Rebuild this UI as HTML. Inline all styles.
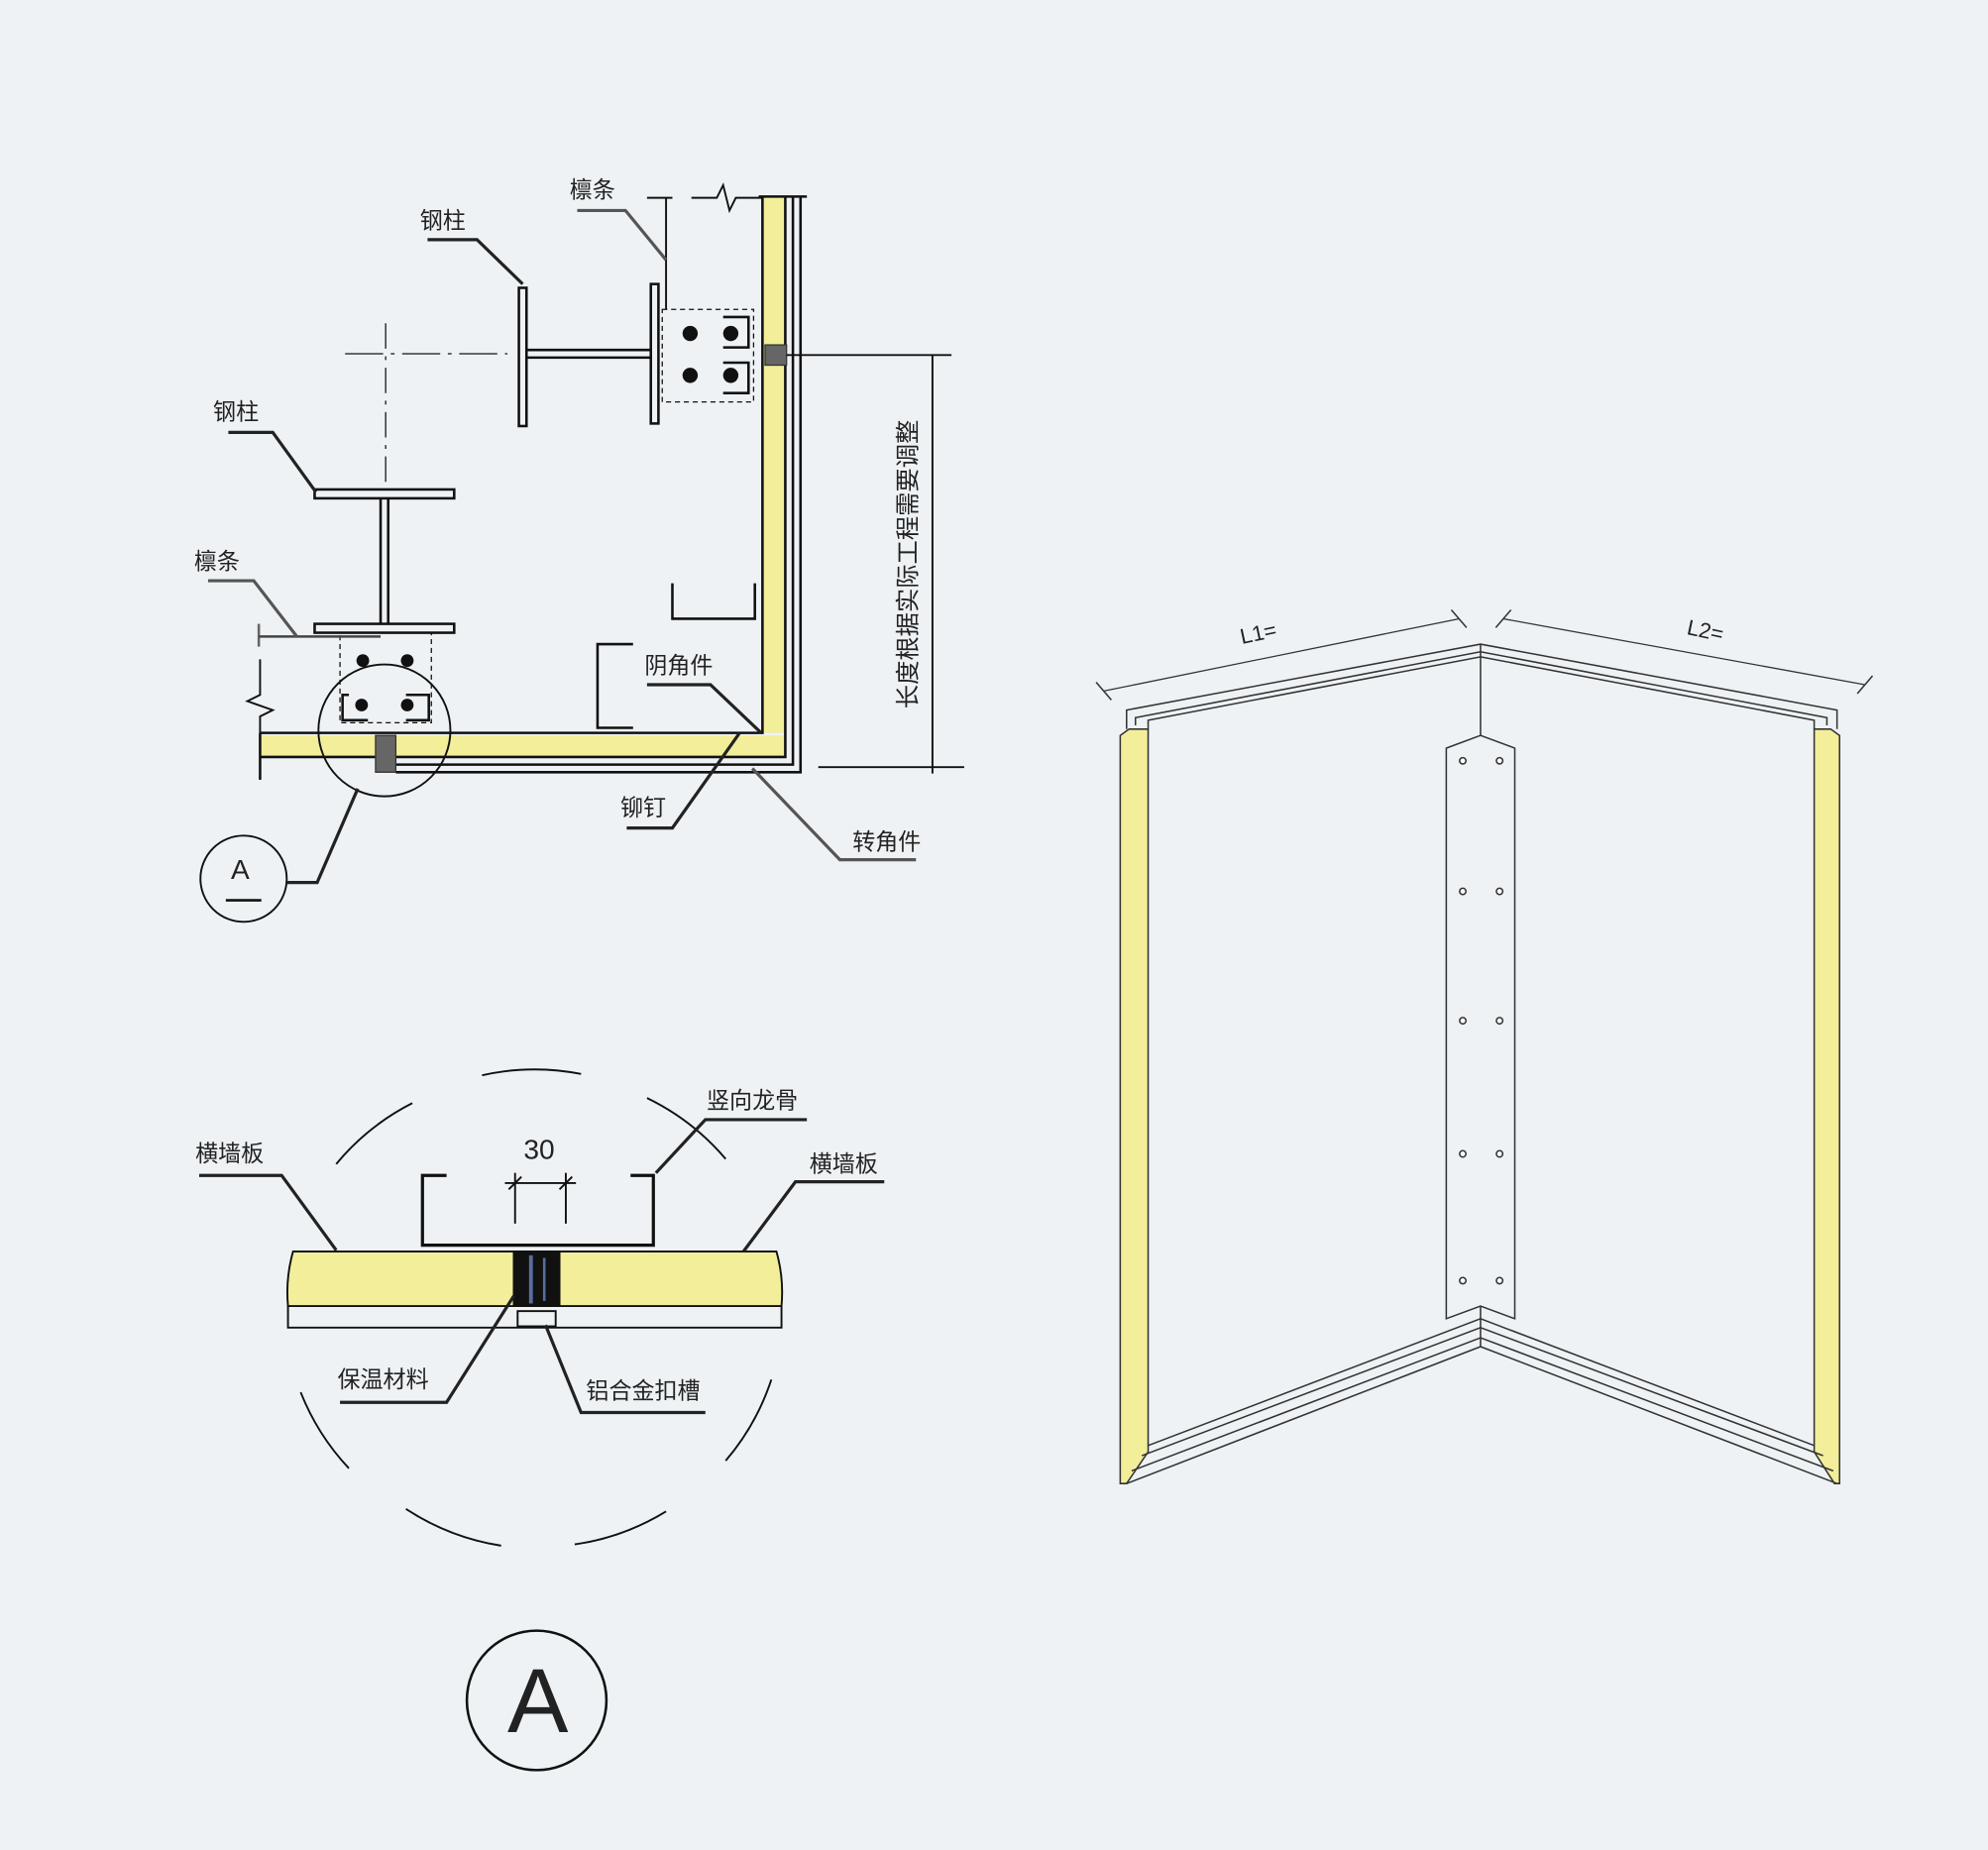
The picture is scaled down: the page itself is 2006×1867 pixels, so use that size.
<!DOCTYPE html>
<html><head><meta charset="utf-8"><style>
html,body{margin:0;padding:0;background:#eef2f5;}
svg{display:block;}
text{font-family:"Liberation Sans","Noto Sans CJK SC",sans-serif;fill:#222;}
</style></head><body>
<svg width="2006" height="1867" viewBox="0 0 1567 1459" preserveAspectRatio="none" xmlns="http://www.w3.org/2000/svg">
<rect width="1567" height="1459" fill="#eef2f5"/>
<g fill="none" stroke="#111" stroke-width="2">
<rect x="601" y="155" width="18" height="423" fill="#f2ee9a" stroke="none"/>
<rect x="205" y="580" width="414" height="17" fill="#f2ee9a" stroke="none"/>
<polyline points="601,155 601,578 205,578"/>
<polyline points="619,155 619,597 205,597"/>
<polyline points="625,155 625,603 312,603"/>
<polyline points="631,155 631,609 312,609"/>
<line x1="598" y1="155" x2="636" y2="155"/>
<line x1="205" y1="578" x2="205" y2="615"/>
<rect x="603" y="272" width="17" height="16" fill="#666" stroke="#333" stroke-width="1"/>
<rect x="296" y="580" width="16" height="29" fill="#666" stroke="#333" stroke-width="1"/>
<line x1="620" y1="280" x2="750" y2="280" stroke-width="1.5"/>
<rect x="409" y="227" width="6" height="109"/>
<rect x="513" y="224" width="6" height="110"/>
<line x1="415" y1="276" x2="513" y2="276"/><line x1="415" y1="282" x2="513" y2="282"/>
<line x1="272" y1="279" x2="400" y2="279" stroke-width="1" stroke-dasharray="30,6,3,6"/>
<rect x="522" y="244" width="72" height="73" stroke-width="1" stroke-dasharray="4,3"/>
<polyline points="570,250 590,250 590,274 570,274" stroke-width="2"/>
<polyline points="570,286 590,286 590,310 570,310" stroke-width="2"/>
<line x1="525" y1="156" x2="525" y2="244" stroke-width="1.5"/>
<path d="M510,156 H530 M545,156 H565 L570,146 L575,166 L580,156 H601" stroke-width="1.5"/>
<rect x="248" y="386" width="110" height="7"/>
<rect x="248" y="492" width="110" height="7"/>
<line x1="300" y1="393" x2="300" y2="492"/><line x1="306" y1="393" x2="306" y2="492"/>
<line x1="304" y1="255" x2="304" y2="386" stroke-width="1" stroke-dasharray="20,6,3,6"/>
<rect x="268" y="499" width="72" height="71" stroke-width="1" stroke-dasharray="4,3"/>
<polyline points="275,548 270,548 270,568 290,568" />
<polyline points="320,548 338,548 338,568 320,568"/>
<polyline points="204,492 204,510" stroke="#666"/>
<line x1="204" y1="502" x2="300" y2="502" stroke="#444"/>
<path d="M205,520 V548 L195,553 L215,560 L205,565 V578" stroke-width="1.5"/>
<polyline points="530,460 530,488 595,488 595,460"/>
<polyline points="499,508 471,508 471,574 499,574"/>
<circle cx="303" cy="576" r="52" stroke-width="1.5"/>
<circle cx="192" cy="693" r="34" stroke-width="1.5"/>
<line x1="178" y1="710" x2="206" y2="710"/>
<line x1="735" y1="280" x2="735" y2="610" stroke-width="1.5"/>
<line x1="645" y1="605" x2="760" y2="605" stroke-width="1.5"/>
</g>
<g fill="#111">
<circle cx="544" cy="263" r="6"/><circle cx="576" cy="263" r="6"/><circle cx="544" cy="296" r="6"/><circle cx="576" cy="296" r="6"/>
<circle cx="286" cy="521" r="5"/><circle cx="321" cy="521" r="5"/><circle cx="285" cy="556" r="5"/><circle cx="321" cy="556" r="5"/>
</g>
<g fill="none" stroke="#222" stroke-width="2.5">
<polyline points="455,166 493,166 525,205" stroke="#555"/>
<polyline points="337,189 376,189 412,224"/>
<polyline points="180,341 215,341 249,388"/>
<polyline points="164,458 200,458 234,502" stroke="#555"/>
<polyline points="510,540 560,540 600,578"/>
<polyline points="494,653 530,653 583,578"/>
<polyline points="722,678 662,678 593,606" stroke="#555"/>
<polyline points="226,696 250,696 282,622"/>
</g>
<g font-size="18">
<text x="449" y="156">檩条</text>
<text x="331" y="180">钢柱</text>
<text x="168" y="331">钢柱</text>
<text x="153" y="449">檩条</text>
<text x="508" y="531">阴角件</text>
<text x="489" y="643">铆钉</text>
<text x="672" y="670">转角件</text>
<text x="182" y="693" font-size="22">A</text>
<text transform="translate(722,445) rotate(-90)" text-anchor="middle" font-size="19">长度根据实际工程需要调整</text>
</g>
<g fill="none" stroke="#111" stroke-width="1.5">
<path d="M265,918 A190,190 0 0 1 325,870"/>
<path d="M380,848 A190,190 0 0 1 458,847"/>
<path d="M510,866 A190,190 0 0 1 572,914"/>
<path d="M237,1098 A190,190 0 0 0 275,1158"/>
<path d="M320,1190 A190,190 0 0 0 395,1219"/>
<path d="M453,1218 A190,190 0 0 0 525,1192"/>
<path d="M572,1152 A190,190 0 0 0 608,1088"/>
<path d="M231,987 H612 Q618,1008 616,1030 H227 Q225,1008 231,987 Z" fill="#f2ee9a"/>
<path d="M227,1030 V1047 H616 V1030"/>
<rect x="405" y="987" width="36" height="43" fill="#111"/>
<rect x="408" y="1034" width="30" height="12" fill="#eef2f5"/>
<polyline points="352,927 333,927 333,982 515,982 515,927 497,927" stroke-width="2.5"/>
<line x1="406" y1="925" x2="406" y2="965"/><line x1="446" y1="925" x2="446" y2="965"/>
<line x1="398" y1="933" x2="454" y2="933"/>
<line x1="401" y1="938" x2="411" y2="928"/><line x1="441" y1="938" x2="451" y2="928"/>
<circle cx="423" cy="1341" r="55" stroke-width="2"/>
</g>
<g fill="#8af" opacity="0.6"><rect x="417" y="990" width="3" height="38"/><rect x="428" y="992" width="2" height="34"/></g>
<g fill="none" stroke="#222" stroke-width="2.5">
<polyline points="157,927 222,927 265,986"/>
<polyline points="636,883 556,883 517,925"/>
<polyline points="697,932 627,932 586,987"/>
<polyline points="268,1106 352,1106 405,1022"/>
<polyline points="556,1114 458,1114 430,1045"/>
</g>
<g font-size="18">
<text x="154" y="916">横墙板</text>
<text x="557" y="874">竖向龙骨</text>
<text x="638" y="924">横墙板</text>
<text x="266" y="1094">保温材料</text>
<text x="462" y="1103">铝合金扣槽</text>
<text x="425" y="914" font-size="22" text-anchor="middle">30</text>
<text x="424" y="1366" font-size="72" text-anchor="middle">A</text>
</g>
<g fill="none" stroke="#333" stroke-width="1.2">
<polygon points="883,580 890,575 905,575 905,1145 888,1170 883,1170" fill="#f2ee9a"/>
<polygon points="1450,580 1443,575 1430,575 1430,1145 1446,1170 1450,1170" fill="#f2ee9a"/>
<polyline points="888,575 888,560 1167,508 1448,560 1448,575"/>
<polyline points="895,572 895,566 1167,514 1440,566 1440,572"/>
<polyline points="905,575 905,568 1167,518 1430,568 1430,575"/>
<polyline points="888,1170 1167,1062 1448,1170"/>
<polyline points="892,1160 1167,1055 1445,1160"/>
<polyline points="900,1148 1167,1047 1437,1148"/>
<polyline points="905,1140 1167,1040 1430,1140"/>
<line x1="1167" y1="508" x2="1167" y2="1062"/>
<polygon points="1140,590 1167,580 1194,590 1194,1040 1167,1030 1140,1040" fill="#eef2f5"/>
<line x1="870" y1="545" x2="1150" y2="488" stroke-width="1"/>
<line x1="864" y1="538" x2="876" y2="552"/><line x1="1144" y1="481" x2="1156" y2="495"/>
<line x1="1185" y1="488" x2="1470" y2="540" stroke-width="1"/>
<line x1="1179" y1="495" x2="1191" y2="481"/><line x1="1464" y1="547" x2="1476" y2="533"/>
</g>
<g fill="#fff" stroke="#333" stroke-width="1.2">
<circle cx="1153" cy="600" r="2.5"/><circle cx="1182" cy="600" r="2.5"/>
<circle cx="1153" cy="703" r="2.5"/><circle cx="1182" cy="703" r="2.5"/>
<circle cx="1153" cy="805" r="2.5"/><circle cx="1182" cy="805" r="2.5"/>
<circle cx="1153" cy="910" r="2.5"/><circle cx="1182" cy="910" r="2.5"/>
<circle cx="1153" cy="1010" r="2.5"/><circle cx="1182" cy="1010" r="2.5"/>
</g>
<text font-size="17" transform="translate(993,505) rotate(-12)" text-anchor="middle">L1=</text>
<text font-size="17" transform="translate(1343,503) rotate(12)" text-anchor="middle">L2=</text>
</svg>
</body></html>
